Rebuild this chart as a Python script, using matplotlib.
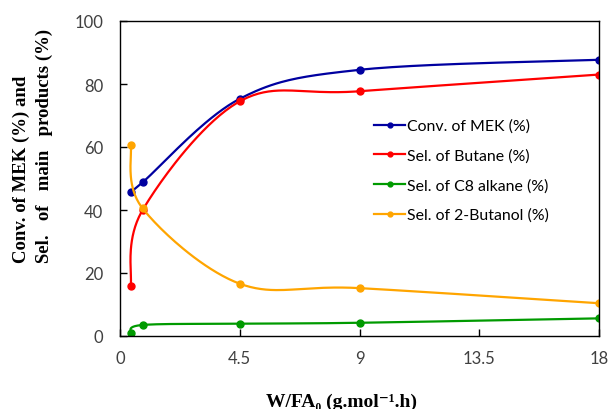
import numpy as np
import matplotlib
matplotlib.use("Agg")
import matplotlib.pyplot as plt

# W/FA0 values and series (%)
w_fa = [0.4, 0.85, 4.5, 9, 18]
conv_mek = [45.8, 48.8, 75.3, 84.5, 87.7]
sel_butane = [15.8, 40.0, 74.5, 77.7, 83.0]
sel_c8 = [1.0, 3.5, 3.9, 4.2, 5.6]
sel_butanol = [60.6, 40.5, 16.6, 15.2, 10.4]

labels = ["Conv. of MEK (%)", "Sel. of Butane (%)", "Sel. of C8 alkane (%)",
          "Sel. of 2-Butanol (%)"]
colors = ["#0000A0", "#FF0000", "#009A00", "#FFA500"]

XMAX, YMAX = 18.0, 100.0


def smooth(xs, ys, n=40):
    # Excel-like smoothed line: Catmull-Rom Bezier in screen space
    w, h = 480.0, 315.0
    px = np.array(xs) / XMAX * w
    py = np.array(ys) / YMAX * h
    pts = np.column_stack([px, py])
    out = [pts[0]]
    t = np.linspace(0, 1, n)[1:, None]
    for i in range(len(pts) - 1):
        p0 = pts[max(i - 1, 0)]
        p1 = pts[i]
        p2 = pts[i + 1]
        p3 = pts[min(i + 2, len(pts) - 1)]
        c1 = p1 + (p2 - p0) / 6.0
        c2 = p2 - (p3 - p1) / 6.0
        seg = ((1 - t) ** 3) * p1 + 3 * ((1 - t) ** 2) * t * c1 \
            + 3 * (1 - t) * t ** 2 * c2 + t ** 3 * p2
        out.extend(seg)
    out = np.array(out)
    return out[:, 0] / w * XMAX, out[:, 1] / h * YMAX


fig = plt.figure(figsize=(6.09, 4.10), dpi=100)
ax = fig.add_axes([120 / 609, 73 / 410, 479 / 609, 315 / 410])

for ys, lab, c in zip([conv_mek, sel_butane, sel_c8, sel_butanol], labels, colors):
    sx, sy = smooth(w_fa, ys)
    ax.plot(sx, sy, color=c, lw=1.6)
    ax.plot(w_fa, ys, "o", color=c, ms=5)
    ax.plot([], [], "-o", color=c, lw=1.6, ms=3.5, label=lab)

ax.set_xlim(0, XMAX)
ax.set_ylim(0, YMAX)
ax.set_xticks([0, 4.5, 9, 13.5, 18])
ax.set_xticklabels(["0", "4.5", "9", "13.5", "18"])
ax.set_yticks([0, 20, 40, 60, 80, 100])
ax.tick_params(direction="in", length=5, width=1, labelsize=12,
               labelcolor="#404040")
ax.tick_params(axis="y", pad=12)
ax.tick_params(axis="x", pad=10)
for lbl in ax.get_xticklabels() + ax.get_yticklabels():
    lbl.set_fontfamily("Lato")
for s in ax.spines.values():
    s.set_linewidth(1)

serif = ["Liberation Serif", "DejaVu Serif"]
fig.text(342 / 609, 1 - 402 / 410, "W/FA\u2080 (g.mol\u207b\u00b9.h)", fontsize=14,
         fontweight="bold", family=serif, ha="center", va="center")
fig.text(33 / 609, 1 - 263 / 410,
         "Conv. of MEK (%) and\nSel.   of   main   products (%)",
         fontsize=13.5, fontweight="bold", family=serif, rotation=90,
         ha="center", va="bottom", multialignment="left", linespacing=1.4)

leg = ax.legend(loc="upper left", bbox_to_anchor=(0.5, 0.735), frameon=False,
                prop={"family": "Lato", "size": 11.4}, handlelength=2.0,
                handletextpad=0.1, labelspacing=0.97)

fig.savefig("out.png", dpi=100)
